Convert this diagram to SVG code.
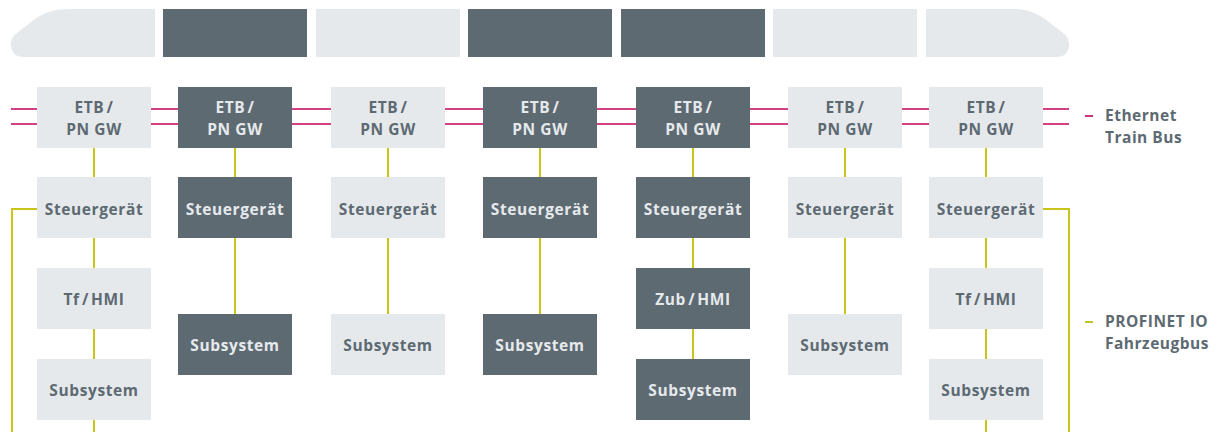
<svg xmlns="http://www.w3.org/2000/svg" width="1224" height="432" viewBox="0 0 1224 432">
<style>
.l{fill:#e6e9ec}
.d{fill:#5d6a72}
.t{font-family:"Open Sans","Noto Sans","Liberation Sans",sans-serif;font-weight:700;font-size:15.5px;letter-spacing:0.6px;text-anchor:middle}
.tl{fill:#5d6a72}
.td{fill:#e6e9ec}
.lg{font-family:"Open Sans","Noto Sans","Liberation Sans",sans-serif;font-weight:700;font-size:15.5px;letter-spacing:0.5px;fill:#5d6a72}
.etb{stroke:#c4005a;stroke-width:1.6;fill:none}
.pn{stroke:#c8c41a;stroke-width:2;fill:none}
</style>
<g id="train">
<path class="l" d="M155,9 H68 C55,9 45,12 35,19 L17,33 C10,38 10,46 12,50 C14,55 18,57 24,57 H155 Z"/>
<rect class="d" x="163" y="9" width="144" height="48"/>
<rect class="l" x="316" y="9" width="144" height="48"/>
<rect class="d" x="468" y="9" width="144" height="48"/>
<rect class="d" x="621" y="9" width="144" height="48"/>
<rect class="l" x="773" y="9" width="144" height="48"/>
<path class="l" d="M926,9 H1012 C1025,9 1035,12 1045,19 L1063,33 C1070,38 1070,46 1068,50 C1066,55 1062,57 1056,57 H926 Z"/>
</g>
<g id="connectors">
<line class="etb" x1="11" y1="109" x2="1069" y2="109"/>
<line class="etb" x1="11" y1="124" x2="1069" y2="124"/>
<line class="pn" x1="94" y1="148" x2="94" y2="432"/>
<line class="pn" x1="235" y1="148" x2="235" y2="314"/>
<line class="pn" x1="388" y1="148" x2="388" y2="314"/>
<line class="pn" x1="540" y1="148" x2="540" y2="314"/>
<line class="pn" x1="693" y1="148" x2="693" y2="359"/>
<line class="pn" x1="845" y1="148" x2="845" y2="314"/>
<line class="pn" x1="986" y1="148" x2="986" y2="432"/>
<polyline class="pn" points="37,209 12,209 12,432"/>
<polyline class="pn" points="1043,209 1069,209 1069,432"/>
</g>
<g id="col1">
<rect class="l" x="37" y="87" width="114" height="61"/>
<text class="t tl" x="94" y="113">ETB&#8202;/</text><text class="t tl" x="94" y="135">PN GW</text>
<rect class="l" x="37" y="177" width="114" height="61"/>
<text class="t tl" x="94" y="215">Steuergerät</text>
<rect class="l" x="37" y="268" width="114" height="61"/>
<text class="t tl" x="94" y="305">Tf&#8202;/&#8202;HMI</text>
<rect class="l" x="37" y="359" width="114" height="61"/>
<text class="t tl" x="94" y="396">Subsystem</text>
</g>
<g id="col2">
<rect class="d" x="178" y="87" width="114" height="61"/>
<text class="t td" x="235" y="113">ETB&#8202;/</text><text class="t td" x="235" y="135">PN GW</text>
<rect class="d" x="178" y="177" width="114" height="61"/>
<text class="t td" x="235" y="215">Steuergerät</text>
<rect class="d" x="178" y="314" width="114" height="61"/>
<text class="t td" x="235" y="351">Subsystem</text>
</g>
<g id="col3">
<rect class="l" x="331" y="87" width="114" height="61"/>
<text class="t tl" x="388" y="113">ETB&#8202;/</text><text class="t tl" x="388" y="135">PN GW</text>
<rect class="l" x="331" y="177" width="114" height="61"/>
<text class="t tl" x="388" y="215">Steuergerät</text>
<rect class="l" x="331" y="314" width="114" height="61"/>
<text class="t tl" x="388" y="351">Subsystem</text>
</g>
<g id="col4">
<rect class="d" x="483" y="87" width="114" height="61"/>
<text class="t td" x="540" y="113">ETB&#8202;/</text><text class="t td" x="540" y="135">PN GW</text>
<rect class="d" x="483" y="177" width="114" height="61"/>
<text class="t td" x="540" y="215">Steuergerät</text>
<rect class="d" x="483" y="314" width="114" height="61"/>
<text class="t td" x="540" y="351">Subsystem</text>
</g>
<g id="col5">
<rect class="d" x="636" y="87" width="114" height="61"/>
<text class="t td" x="693" y="113">ETB&#8202;/</text><text class="t td" x="693" y="135">PN GW</text>
<rect class="d" x="636" y="177" width="114" height="61"/>
<text class="t td" x="693" y="215">Steuergerät</text>
<rect class="d" x="636" y="268" width="114" height="61"/>
<text class="t td" x="693" y="305">Zub&#8202;/&#8202;HMI</text>
<rect class="d" x="636" y="359" width="114" height="61"/>
<text class="t td" x="693" y="396">Subsystem</text>
</g>
<g id="col6">
<rect class="l" x="788" y="87" width="114" height="61"/>
<text class="t tl" x="845" y="113">ETB&#8202;/</text><text class="t tl" x="845" y="135">PN GW</text>
<rect class="l" x="788" y="177" width="114" height="61"/>
<text class="t tl" x="845" y="215">Steuergerät</text>
<rect class="l" x="788" y="314" width="114" height="61"/>
<text class="t tl" x="845" y="351">Subsystem</text>
</g>
<g id="col7">
<rect class="l" x="929" y="87" width="114" height="61"/>
<text class="t tl" x="986" y="113">ETB&#8202;/</text><text class="t tl" x="986" y="135">PN GW</text>
<rect class="l" x="929" y="177" width="114" height="61"/>
<text class="t tl" x="986" y="215">Steuergerät</text>
<rect class="l" x="929" y="268" width="114" height="61"/>
<text class="t tl" x="986" y="305">Tf&#8202;/&#8202;HMI</text>
<rect class="l" x="929" y="359" width="114" height="61"/>
<text class="t tl" x="986" y="396">Subsystem</text>
</g>
<g id="legend-etb">
<line class="etb" x1="1085" y1="116" x2="1093" y2="116" stroke-width="2"/>
<text class="lg" x="1105" y="121">Ethernet</text>
<text class="lg" x="1105" y="143">Train Bus</text>
</g>
<g id="legend-pn">
<line class="pn" x1="1085" y1="322" x2="1093" y2="322"/>
<text class="lg" x="1105" y="327">PROFINET IO</text>
<text class="lg" x="1105" y="349">Fahrzeugbus</text>
</g>
</svg>
